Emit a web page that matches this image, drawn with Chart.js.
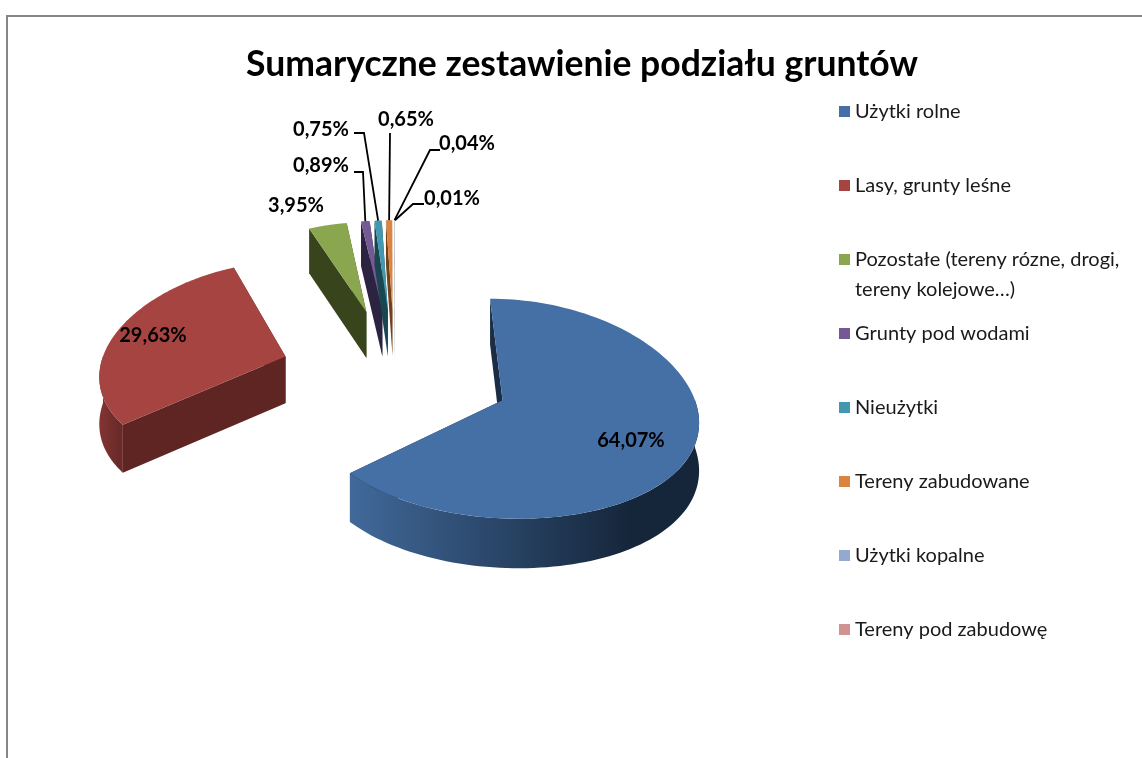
<!DOCTYPE html>
<html lang="pl">
<head>
<meta charset="utf-8">
<title>Sumaryczne zestawienie podziału gruntów</title>
<script src="https://cdn.jsdelivr.net/npm/chart.js@4"></script>
<style>
  html, body { margin: 0; background: #fff; overflow: hidden; }
  #wrap { position: relative; width: 1142px; height: 758px; }
  #frame { position: absolute; left: 6px; top: 15px; right: -4px; bottom: -4px; border: 2px solid #868686; }
  canvas { position: absolute; left: 0; top: 0; }
</style>
</head>
<body>
<div id="wrap">
  <div id="frame"></div>
  <canvas id="chart" width="1142" height="758"></canvas>
</div>
<script>
// ── Data ─────────────────────────────────────────────────────────────────────

const categories = [
  'Użytki rolne',
  'Lasy, grunty leśne',
  'Pozostałe (tereny rózne, drogi, tereny kolejowe…)',
  'Grunty pod wodami',
  'Nieużytki',
  'Tereny zabudowane',
  'Użytki kopalne',
  'Tereny pod zabudowę'
];
const shares = [64.07, 29.63, 3.95, 0.89, 0.75, 0.65, 0.04, 0.01];

// ── Styles ───────────────────────────────────────────────────────────────────

const topColors = ['#4570a6', '#a64441', '#8aa64f', '#745994', '#4198af', '#db843d', '#93a9cf', '#d19392'];
const rimLight = ['#41699a', '#833533', '#3d4a20', '#2e2440', '#1b4a56', '#7c4a20', '#5a6a85', '#85605f'];
const rimDark = ['#15263b', '#6a2a28', '#3d4a20', '#2e2440', '#1b4a56', '#7c4a20', '#5a6a85', '#85605f'];
const faceColors = ['#1a2d45', '#5e2523', '#38441c', '#2c2340', '#1a4652', '#74421a', '#5a6a85', '#85605f'];
const drawOrder = [2, 3, 4, 5, 6, 7, 1, 0];

const labelFont = 'bold 20px Lato, sans-serif';
const legendFont = '20px Lato, sans-serif';

// label anchor (centre of the text), and where the leader line starts, null = no leader
const labelPos = [[631, 441], [153, 336], [296, 206], [321, 166], [321, 130], [406, 120], [467, 144], [452, 199]];
const leaders = [null, null, null,
  [[354, 172], [363, 172]],
  [[354, 133], [364, 133]],
  [[390, 133]],
  [[440, 150], [430, 150]],
  [[424, 204], [413, 204]]];
const legendRows = [111, 185, 259, 333, 407, 481, 555, 629];

// ── Pseudo 3D projection ─────────────────────────────────────────────────────

const centre = { x: 395, y: 372 };
const radius = 186;
const explode = 115;
const tilt = 0.565;
const perspectiveX = 0.000682;
const perspectiveY = 0.0004;
const depth = 47;

function project(u, v, drop) {
  const kx = 1 / (1 + perspectiveX * v);
  const ky = 1 / (1 + perspectiveY * v);
  return {
    x: centre.x + u * kx,
    y: centre.y - tilt * v * ky + (drop ? depth * Math.pow(kx, 0.3) : 0)
  };
}

function apexOf(arc) {
  const mid = (arc.startAngle + arc.endAngle) / 2;
  return { u: explode * Math.cos(mid), v: -explode * Math.sin(mid) };
}

function rimPoint(arc, angle, drop) {
  const a = apexOf(arc);
  return project(a.u + arc.outerRadius * Math.cos(angle), a.v - arc.outerRadius * Math.sin(angle), drop);
}

function fillPath(ctx, pts, fill) {
  ctx.beginPath();
  pts.forEach((p, i) => i ? ctx.lineTo(p.x, p.y) : ctx.moveTo(p.x, p.y));
  ctx.closePath();
  ctx.fillStyle = fill;
  ctx.fill();
}

function drawSlice(ctx, arc, i) {
  const a = apexOf(arc);
  const top = project(a.u, a.v, false);
  const bottom = project(a.u, a.v, true);
  const start = arc.startAngle;
  const end = arc.endAngle;

  // cut faces
  fillPath(ctx, [top, rimPoint(arc, start, false), rimPoint(arc, start, true), bottom], faceColors[i]);
  fillPath(ctx, [top, rimPoint(arc, end, false), rimPoint(arc, end, true), bottom], faceColors[i]);

  // outer wall, only the front half of the rim can be seen
  const from = Math.max(start, 0);
  const to = Math.min(end, Math.PI);
  if (to > from) {
    const upper = [];
    const lower = [];
    for (let s = 0; s <= 80; s++) {
      const ang = from + (to - from) * s / 80;
      upper.push(rimPoint(arc, ang, false));
      lower.unshift(rimPoint(arc, ang, true));
    }
    const xs = upper.map(p => p.x);
    const grad = ctx.createLinearGradient(Math.min(...xs), 0, Math.max(...xs), 0);
    grad.addColorStop(0, rimLight[i]);
    grad.addColorStop(0.8, rimDark[i]);
    grad.addColorStop(1, rimDark[i]);
    fillPath(ctx, upper.concat(lower), grad);
  }

  // top surface
  const surface = [top];
  for (let s = 0; s <= 120; s++) {
    surface.push(rimPoint(arc, start + (end - start) * s / 120, false));
  }
  fillPath(ctx, surface, arc.options.backgroundColor);
}

const pie3d = {
  id: 'pie3d',
  beforeDatasetsDraw(chart) {
    const ctx = chart.ctx;
    const arcs = chart.getDatasetMeta(0).data;
    ctx.save();
    drawOrder.forEach(i => drawSlice(ctx, arcs[i], i));
    ctx.restore();
    return false;
  },
  afterDraw(chart) {
    const ctx = chart.ctx;
    const arcs = chart.getDatasetMeta(0).data;
    ctx.save();

    // leader lines run to the middle of the slice's rim
    ctx.strokeStyle = '#000';
    ctx.lineWidth = 1.8;
    leaders.forEach((line, i) => {
      if (!line) return;
      const end = rimPoint(arcs[i], (arcs[i].startAngle + arcs[i].endAngle) / 2, false);
      ctx.beginPath();
      line.forEach((p, j) => j ? ctx.lineTo(p[0], p[1]) : ctx.moveTo(p[0], p[1]));
      ctx.lineTo(end.x, end.y);
      ctx.stroke();
    });

    // data labels
    ctx.font = labelFont;
    ctx.fillStyle = '#000';
    ctx.textAlign = 'center';
    ctx.textBaseline = 'middle';
    shares.forEach((v, i) => {
      ctx.fillText(v.toFixed(2).replace('.', ',') + '%', labelPos[i][0], labelPos[i][1]);
    });

    // legend, the long entry breaks on two lines
    ctx.font = legendFont;
    ctx.textAlign = 'left';
    chart.data.labels.forEach((name, i) => {
      const y = legendRows[i];
      ctx.fillStyle = topColors[i];
      ctx.fillRect(839, y - 5, 11, 11);
      ctx.fillStyle = '#1a1a1a';
      if (i === 2) {
        ctx.fillText('Pozostałe (tereny rózne, drogi,', 855, y + 1);
        ctx.fillText('tereny kolejowe…)', 855, y + 31);
      } else {
        ctx.fillText(name, 855, y + 1);
      }
    });
    ctx.restore();
  }
};

// ── Chart ────────────────────────────────────────────────────────────────────

new Chart(document.getElementById('chart'), {
  type: 'pie',
  data: {
    labels: categories,
    datasets: [{
      data: shares,
      backgroundColor: topColors,
      borderWidth: 0,
      radius: radius
    }]
  },
  options: {
    responsive: false,
    animation: false,
    events: [],
    layout: { padding: { left: 22 } },
    plugins: {
      legend: { display: false },
      tooltip: { enabled: false },
      title: {
        display: true,
        text: 'Sumaryczne zestawienie podziału gruntów',
        color: '#000',
        font: { family: 'Lato, sans-serif', size: 35.5, weight: 'bold' },
        padding: { top: 43, bottom: 10 }
      }
    }
  },
  plugins: [pie3d]
});
</script>
</body>
</html>
